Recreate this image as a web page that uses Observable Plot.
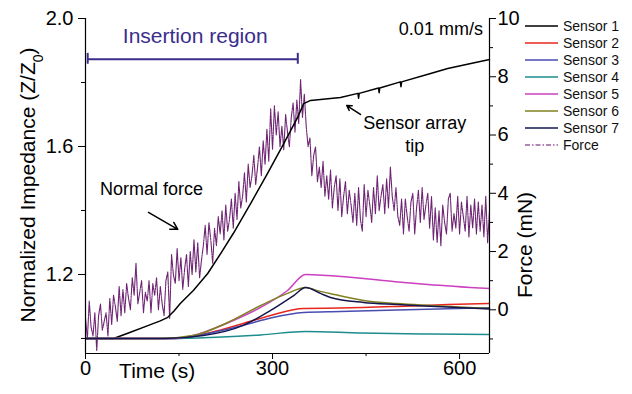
<!DOCTYPE html>
<html><head><meta charset="utf-8">
<script src="https://cdn.jsdelivr.net/npm/d3@7"></script>
<script src="https://cdn.jsdelivr.net/npm/@observablehq/plot@0.6"></script>
<style>
body{margin:0;background:#fff;}
#wrap{position:relative;width:632px;height:394px;font-family:"Liberation Sans",Arial,sans-serif;}
#legend{position:absolute;left:525px;top:17px;font-size:14px;color:#111;}
.row{height:17.1px;display:flex;align-items:center;}
.row svg{margin-right:4px;}
</style></head><body><div id="wrap"><div id="legend"></div></div>
<script>
// ---------- data ----------
const sensorNames = ["Sensor 1","Sensor 2","Sensor 3","Sensor 4","Sensor 5","Sensor 6","Sensor 7"];
const sensorColors = ["#000000","#e8261c","#4a4db0","#1e8c8c","#cc40c0","#808020","#15154f"];

const s1T = [0,45,70,100,120,132,142,152,173,196,217,237,265,292,318,340,350,361,409,437,438,439,470,471,472,505,506,507,548,581,620,648];
const s1V = [1.0,1.0,1.018,1.04,1.055,1.066,1.086,1.109,1.15,1.203,1.266,1.328,1.422,1.516,1.609,1.69,1.734,1.744,1.753,1.766,1.751,1.766,1.783,1.768,1.783,1.802,1.787,1.802,1.825,1.844,1.86,1.872];
const s2T = [0,144,201,253,297,350,409,500,581,648];
const s2V = [1.0,1.0,1.019,1.047,1.072,1.094,1.095,1.1,1.106,1.109];
const s3T = [0,144,201,253,297,350,409,500,581,648];
const s3V = [1.0,1.0,1.017,1.041,1.064,1.081,1.084,1.089,1.093,1.096];
const s4T = [0,136,200,281,353,441,550,648];
const s4V = [1.0,1.0,1.003,1.011,1.022,1.017,1.014,1.0125];
const s5T = [0,136,165,189,237,281,324,353,388,494,549,648];
const s5V = [1.0,1.0,1.006,1.019,1.056,1.097,1.15,1.2,1.197,1.178,1.169,1.156];
const s6T = [0,120,173,228,281,324,353,375,393,446,500,553,648];
const s6V = [1.0,1.0,1.009,1.05,1.103,1.141,1.159,1.148,1.14,1.119,1.109,1.103,1.094];
const s7T = [0,128,189,253,297,334,353,377,393,446,500,648];
const s7V = [1.0,1.0,1.009,1.041,1.0875,1.134,1.159,1.141,1.128,1.1125,1.106,1.092];

// Force (mN), one reading every 3 s starting at 0 s
const forceStep = 3;
const forceValues = [
 -0.3,-1.0,0.3,-0.6,-0.9,-0.1,-1.4,-0.2,0.2,-0.7,
 -0.4,-0.1,-0.9,0.4,-0.5,0.5,0.1,-0.4,0.8,-0.2,
 0.7,-0.1,0.9,0.4,0.0,1.1,0.5,1.6,0.2,0.6,
 1.0,-0.1,0.6,0.3,1.0,-0.1,0.9,0.5,1.1,0.0,
 0.8,0.2,-0.2,1.0,1.3,-0.3,1.9,1.2,0.9,2.1,
 1.0,1.8,0.7,1.4,1.9,0.8,2.0,1.2,2.4,1.3,
 2.3,1.1,1.7,2.2,2.9,1.9,3.0,2.4,1.6,2.8,
 2.2,3.2,2.6,3.4,2.4,3.6,2.7,3.1,3.8,2.8,
 4.0,3.1,4.4,3.5,3.9,4.7,3.7,5.0,4.2,4.6,
 5.3,4.3,4.9,5.6,4.6,5.8,5.0,6.2,5.1,6.9,
 5.5,7.0,6.0,6.8,5.6,6.3,5.5,6.7,6.1,5.6,
 6.6,7.1,6.1,7.2,6.4,7.9,6.6,7.4,6.3,5.6,
 5.9,4.6,5.3,5.6,4.4,4.9,4.2,5.1,3.9,4.6,
 3.8,4.8,3.5,4.2,4.6,3.4,4.5,3.2,3.9,4.4,
 3.3,4.1,3.6,3.0,4.0,2.9,4.2,3.1,2.7,4.3,
 3.2,4.1,3.6,3.0,4.2,3.3,4.6,3.4,3.9,4.3,
 3.3,4.5,3.5,4.9,3.9,3.4,4.2,3.2,2.9,3.8,
 2.6,3.8,3.2,2.7,3.7,4.0,2.6,3.5,4.1,3.0,
 4.2,3.1,3.6,4.0,2.8,3.9,2.4,3.5,2.3,3.4,
 2.2,3.6,3.0,2.6,3.8,4.0,2.7,3.3,2.8,3.9,
 2.6,3.7,3.2,2.7,3.9,2.5,3.6,2.8,3.8,2.6,
 3.7,2.7,3.6,2.5,3.9,2.3,3.4
];
const forceColor = "#6e2473";

const xTicks = [0,300,600], xMinor = [150,450];
const yTicks = [1.2,1.6,2.0], yMinor = [1.0,1.4,1.8];
const fTicks = [0,2,4,6,8,10], fMinor = [-1,1,3,5,7,9];

// ---------- scales ----------
const xDom = [0,648];
const yDom = [0.953,2.0];
const fDom = [-1.5,10];
const toLeft = f => yDom[0] + (f - fDom[0]) * (yDom[1]-yDom[0]) / (fDom[1]-fDom[0]);
const fromLeft = v => fDom[0] + (v - yDom[0]) * (fDom[1]-fDom[0]) / (yDom[1]-yDom[0]);

const sensorT = [s1T,s2T,s3T,s4T,s5T,s6T,s7T];
const sensorV = [s1V,s2V,s3V,s4V,s5V,s6V,s7V];
const sensorData = sensorNames.map((n,i)=>sensorT[i].map((t,j)=>({t, v:sensorV[i][j], name:n})));
const forceData = forceValues.map((f,i)=>({t:i*forceStep, y:toLeft(f)}));

const font = '"Liberation Sans",Arial,sans-serif';
const ink = "#3a2d8c";

const plot = Plot.plot({
  width:632, height:394,
  marginLeft:85, marginRight:143, marginTop:18, marginBottom:41,
  style:{fontFamily:font, fontSize:"20px", background:"transparent", color:"#000", overflow:"visible"},
  x:{domain:xDom},
  y:{domain:yDom},
  marks:[
    Plot.line(forceData,{x:"t",y:"y",stroke:forceColor,strokeWidth:1.1,strokeDasharray:"12,1,1.5,1"}),
    ...sensorData.map((d,i)=>Plot.line(d,{x:"t",y:"v",stroke:sensorColors[i],strokeWidth:1.5,curve:i===0?"linear":"monotone-x"})),
    Plot.ruleX([xDom[0]],{stroke:"#000",strokeWidth:1.2}),
    Plot.ruleX([xDom[1]],{stroke:"#000",strokeWidth:1.2}),
    Plot.ruleY([yDom[0]],{stroke:"#000",strokeWidth:1.2}),
    Plot.axisX(xTicks,{tickSize:6,tickPadding:1,fontSize:20,label:null}),
    Plot.axisX(xMinor,{tickSize:3,tickFormat:()=>"",label:null}),
    Plot.axisY(yTicks,{anchor:"left",tickSize:7,tickPadding:5,fontSize:20,tickFormat:d3.format(".1f"),label:null}),
    Plot.axisY(yMinor,{anchor:"left",tickSize:4,tickFormat:()=>"",label:null}),
    Plot.axisY(fTicks.map(toLeft),{anchor:"right",tickSize:6,tickPadding:2,fontSize:20,tickFormat:v=>String(Math.round(fromLeft(v))),label:null}),
    Plot.axisY(fMinor.map(toLeft),{anchor:"right",tickSize:3,tickFormat:()=>"",label:null}),
    // annotations
    Plot.text(["Time (s)"],{x:115,y:yDom[0],dy:18,fontSize:21,fill:"#000"}),
    Plot.text(["Insertion region"],{x:176,y:1.944,fontSize:21,fill:ink}),
    Plot.ruleY([1.873],{x1:3.5,x2:340.5,stroke:ink,strokeWidth:2}),
    Plot.ruleX([3.5,340.5],{y1:1.857,y2:1.891,stroke:ink,strokeWidth:2}),
    Plot.text(["0.01 mm/s"],{x:570,y:1.966,fontSize:18,fill:"#000"}),
    Plot.text(["Normal force"],{x:106,y:1.466,fontSize:18,fill:"#000"}),
    Plot.arrow([0],{x1:101,y1:1.394,x2:148,y2:1.341,stroke:"#000",strokeWidth:1.5,headLength:8}),
    Plot.text(["Sensor array"],{x:528,y:1.672,fontSize:18,fill:"#000"}),
    Plot.text(["tip"],{x:528,y:1.602,fontSize:18,fill:"#000"}),
    Plot.arrow([0],{x1:441,y1:1.70,x2:419,y2:1.728,stroke:"#000",strokeWidth:1.5,headLength:8})
  ]
});

const svg = d3.select(plot);
const lt = svg.append("text").attr("transform","translate(35,185) rotate(-90)")
  .attr("text-anchor","middle").attr("font-size",21).attr("fill","#000").attr("font-family",font);
lt.append("tspan").text("Normalized Impedance (Z/Z");
lt.append("tspan").attr("baseline-shift","sub").attr("font-size",14).text("0");
lt.append("tspan").text(")");
svg.append("text").attr("transform","translate(532,245) rotate(-90)")
  .attr("text-anchor","middle").attr("font-size",21).attr("fill","#000").attr("font-family",font)
  .text("Force (mN)");

document.getElementById("wrap").prepend(plot);

// legend
const leg = document.getElementById("legend");
const legItems = sensorNames.map((n,i)=>({n, c:sensorColors[i], dash:null, w:1.5}))
  .concat([{n:"Force", c:"#9a5ea0", dash:"5,2,1.5,2", w:1.5}]);
legItems.forEach(it=>{
  const row = document.createElement("div"); row.className="row";
  row.innerHTML = `<svg width="34" height="6"><line x1="0" y1="3" x2="33" y2="3" stroke="${it.c}" stroke-width="${it.w}" ${it.dash?`stroke-dasharray="${it.dash}"`:""}/></svg><span>${it.n}</span>`;
  leg.appendChild(row);
});
</script>
</body></html>
